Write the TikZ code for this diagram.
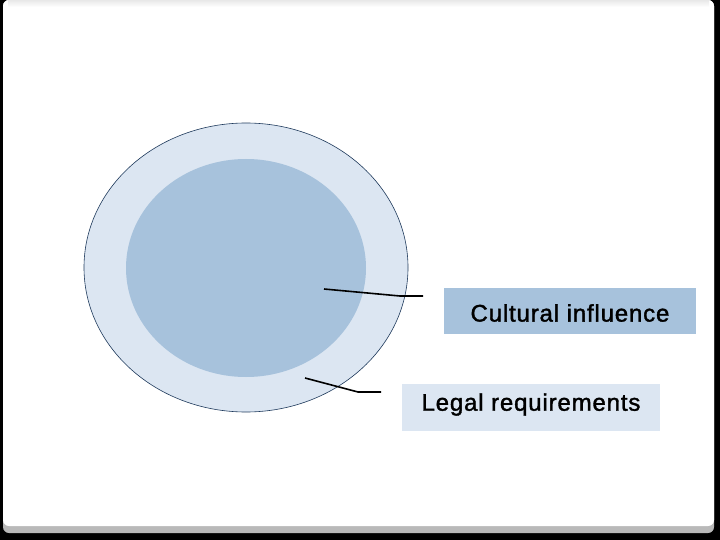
\documentclass[tikz,border=0pt]{standalone}
\usepackage{fontspec}
\setmainfont{Liberation Sans}
\usetikzlibrary{shapes.geometric}
\definecolor{ringfill}{HTML}{DCE6F2}
\definecolor{corefill}{HTML}{A7C2DC}
\definecolor{ringline}{HTML}{1F3A5C}
\begin{document}
\begin{tikzpicture}[
  x=1pt,y=-1pt,
  ring/.style={ellipse,draw=ringline,fill=ringfill,line width=0.6pt,inner sep=0pt},
  core/.style={ellipse,fill=corefill,inner sep=0pt},
  labbox/.style={inner sep=0pt,font=\fontsize{24}{28}\selectfont\addfontfeature{LetterSpace=3.5,FakeBold=1.5}},
  callout/.style={black, line width=1.6pt, line join=round}
]

% slide frame
\fill[black] (0,0) rectangle (720,540);
\fill[gray!55,rounded corners=6pt] (3,0) rectangle (714,533);
\fill[white,rounded corners=6pt] (3,0) rectangle (714,526);
\shade[top color=gray!18,bottom color=white] (8,0) rectangle (709,7);
\useasboundingbox (0,0) rectangle (720,540);

\node[ring,minimum width=324pt,minimum height=289pt] (outer) at (246,267.5) {};
\node[core,minimum width=240pt,minimum height=218pt] (inner) at (246,268) {};

\node[labbox,fill=corefill,minimum width=252pt,minimum height=46pt] (cult) at (570,311) {\raisebox{-2pt}[\height][\depth]{Cultural influence}};
\node[labbox,fill=ringfill,minimum width=258pt,minimum height=47pt] (legal) at (531,407.5) {\raisebox{3pt}[\height][\depth]{Legal requirements}};

\coordinate (cultA) at (324,289);
\coordinate (cultB) at (400,296);
\coordinate (cultC) at (423,296);
\coordinate (legalA) at (305,378);
\coordinate (legalB) at (358,392);
\coordinate (legalC) at (381,392);

\draw[callout] (cultA) -- (cultB) -- (cultC);
\draw[callout] (legalA) -- (legalB) -- (legalC);

\end{tikzpicture}
\end{document}
